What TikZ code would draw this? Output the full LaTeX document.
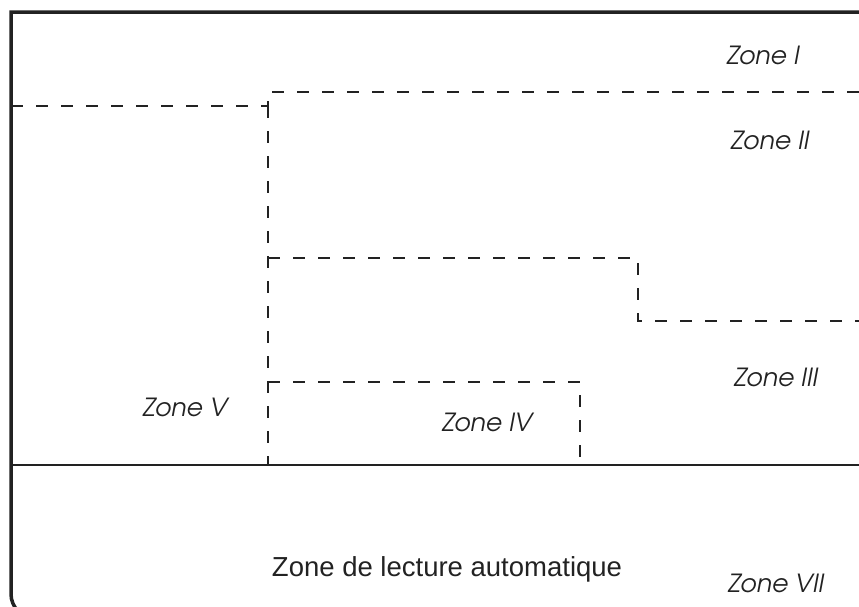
\documentclass[tikz,border=0pt]{standalone}
\usepackage{fontspec}
\setmainfont{Liberation Sans}
\newfontfamily\zonefont{TeX Gyre Adventor}
\usepackage{xcolor}
\definecolor{inkgray}{RGB}{34,34,34}
\usetikzlibrary{positioning}

\tikzset{
  frameline/.style={line width=3.5pt, inkgray},
  dashline/.style={line width=2.7pt, inkgray, dash pattern=on 12pt off 13pt},
  zonelabel/.style={font=\zonefont\itshape\fontsize{25}{28}\selectfont, inkgray, anchor=base},
}

\begin{document}
\begin{tikzpicture}[x=1pt, y=-1pt]
  \useasboundingbox (0,0) rectangle (859,606);

  % Outer frame (open on the right, rounded at the bottom)
  \draw[frameline] (859,12) -- (11,12) -- (11,300)
    [rounded corners=24pt] -- (11,618) -- (300,618);

  % Zone boundaries
  \draw[dashline] (11,106) -- (268,106) -- (268,92) -- (859,92);
  \draw[dashline] (268,106) -- (268,465);
  \draw[dashline] (268,258) -- (638,258) -- (638,321) -- (859,321);
  \draw[dashline] (268,382) -- (580,382) -- (580,465);

  % Reading strip
  \draw[line width=1.8pt, inkgray] (11,465) -- (859,465);

  % Labels
  \node[zonelabel] (z1) at (763,64) {Zone I};
  \node[zonelabel] (z2) at (770,149) {Zone II};
  \node[zonelabel] (z3) at (776,386) {Zone III};
  \node[zonelabel] (z4) at (487,431) {Zone IV};
  \node[zonelabel] (z5) at (185,416) {Zone V};
  \node[font=\fontsize{27.5}{30}\selectfont, inkgray, anchor=base] (lect) at (447,576) {Zone de lecture automatique};
  \node[zonelabel] (z7) at (776,592) {Zone VII};
\end{tikzpicture}
\end{document}
